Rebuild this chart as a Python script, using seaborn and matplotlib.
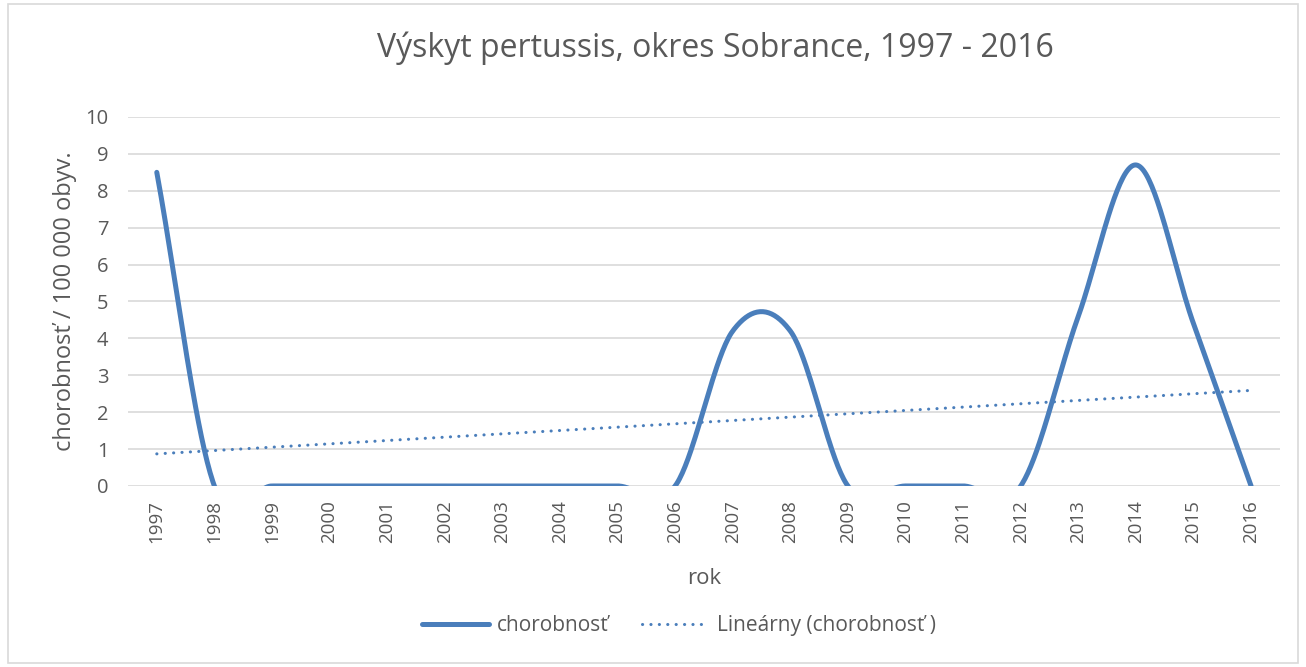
import numpy as np
import pandas as pd
import matplotlib
matplotlib.use("Agg")
import matplotlib.pyplot as plt
import seaborn as sns
from matplotlib.lines import Line2D
from matplotlib.patches import Rectangle

years = [str(y) for y in range(1997, 2017)]
incidence = [8.5, 0, 0, 0, 0, 0, 0, 0, 0, 0,
             4.2, 4.2, 0, 0, 0, 0, 4.6, 8.7, 4.4, 0]
y_ticks = list(range(0, 11))

BLUE = "#4a7ebb"
TEXT = "#595959"
GRID = "#d9d9d9"
DOTS = (0, (0.05, 2.7))


def smooth_curve(values, steps=40):
    """Excel-like smoothed line (Catmull-Rom through the points)."""
    p = np.asarray(values, dtype=float)
    n = len(p)
    xs, ys = [], []
    for i in range(n - 1):
        p0 = p[i - 1] if i > 0 else 2 * p[i] - p[i + 1]
        p3 = p[i + 2] if i + 2 < n else 2 * p[i + 1] - p[i]
        p1, p2 = p[i], p[i + 1]
        m1 = (p2 - p0) / 2
        m2 = (p3 - p1) / 2
        t = np.linspace(0, 1, steps, endpoint=False)
        h00 = 2 * t**3 - 3 * t**2 + 1
        h10 = t**3 - 2 * t**2 + t
        h01 = -2 * t**3 + 3 * t**2
        h11 = t**3 - t**2
        xs.append(i + t)
        ys.append(h00 * p1 + h10 * m1 + h01 * p2 + h11 * m2)
    xs.append([n - 1])
    ys.append([p[-1]])
    return np.concatenate(xs), np.concatenate(ys)


sns.set_theme(style="white")
plt.rcParams["font.family"] = ["Open Sans", "DejaVu Sans"]

fig = plt.figure(figsize=(13.06, 6.67), dpi=100)
ax = fig.add_axes([0.098, 0.2714, 0.882, 0.5532])

sx, sy = smooth_curve(incidence)
curve = pd.DataFrame({"x": sx, "y": sy})
sns.lineplot(data=curve, x="x", y="y", ax=ax, color=BLUE, linewidth=3.6,
             sort=False, estimator=None, solid_capstyle="round", zorder=3)

# linear trend
xi = np.arange(len(years))
slope, intercept = np.polyfit(xi, incidence, 1)
trend = pd.DataFrame({"x": xi, "y": slope * xi + intercept})
sns.lineplot(data=trend, x="x", y="y", ax=ax, color=BLUE, linewidth=2.2,
             linestyle=DOTS, dash_capstyle="round", zorder=2)

ax.set_xlim(-0.5, len(years) - 0.5)
ax.set_ylim(0, 10)
ax.set_yticks(y_ticks)
ax.set_yticklabels([str(v) for v in y_ticks], fontsize=14.5, color=TEXT)
ax.set_xticks(xi)
ax.set_xticklabels(years, rotation=90, fontsize=13.5, color=TEXT)
ax.tick_params(axis="x", length=0, pad=10)
ax.tick_params(axis="y", length=0, pad=14)
ax.yaxis.grid(True, color=GRID, linewidth=1.2)
ax.set_axisbelow(True)
for s in ax.spines.values():
    s.set_visible(False)

ax.set_xlabel("rok", fontsize=16, color=TEXT, labelpad=18)
ax.set_ylabel("chorobnosť / 100 000 obyv.", fontsize=17, color=TEXT, labelpad=6)

fig.text(0.548, 0.928, "Výskyt pertussis, okres Sobrance, 1997 - 2016",
         ha="center", va="center", fontsize=23, color=TEXT)

handles = [
    Line2D([], [], color=BLUE, linewidth=3.6, solid_capstyle="round"),
    Line2D([], [], color=BLUE, linewidth=2.2, linestyle=DOTS,
           dash_capstyle="round"),
]
fig.legend(handles, ["chorobnosť", "Lineárny (chorobnosť )"],
           loc="center", bbox_to_anchor=(0.52, 0.062), ncol=2, frameon=False,
           fontsize=15, labelcolor=TEXT, handlelength=3.2, handletextpad=0.4,
           columnspacing=1.6)

fig.patches.append(Rectangle((0.006, 0.006), 0.988, 0.988, transform=fig.transFigure,
                             fill=False, edgecolor="#d9d9d9", linewidth=1.2))

fig.savefig("out.png", dpi=100)
